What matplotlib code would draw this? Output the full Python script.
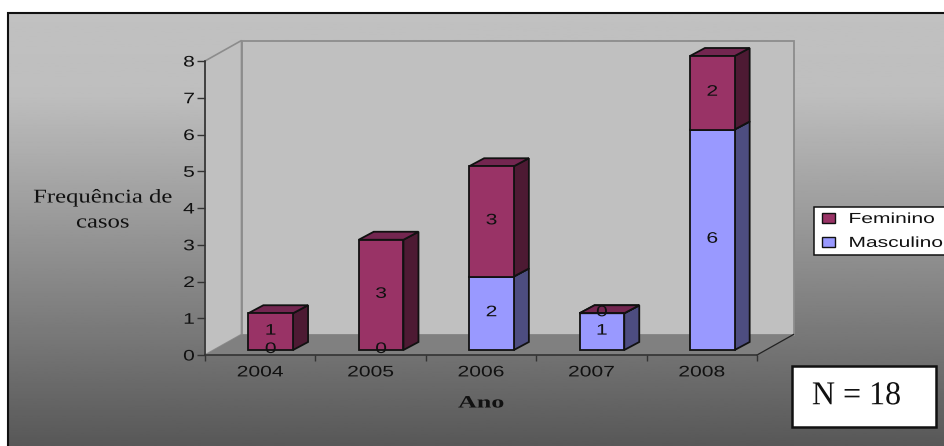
import numpy as np
import matplotlib
matplotlib.use("Agg")
import matplotlib.pyplot as plt
import matplotlib.patheffects as pe
from matplotlib.patches import Patch, Rectangle
from matplotlib.transforms import Affine2D

# Casos por ano e sexo
anos = ["2004", "2005", "2006", "2007", "2008"]
masculino = [0, 0, 2, 1, 6]
feminino = [1, 3, 3, 0, 2]
y_ticks = [0, 1, 2, 3, 4, 5, 6, 7, 8]

W, H = 944, 446

# Cores de frente, lateral e topo de cada serie
cor_fem = ("#993366", "#4d1a33", "#732650")
cor_masc = ("#9999ff", "#4d4d80", "#7373bf")


class Esticar(pe.AbstractPathEffect):
    """Alarga o texto na horizontal, mantendo um ponto de ancora fixo."""

    def __init__(self, sx, ancora="center"):
        super().__init__()
        self.sx = sx
        self.ancora = ancora

    def draw_path(self, renderer, gc, tpath, affine, rgbFace):
        ext = tpath.get_extents()
        cx = {"left": ext.x0, "center": (ext.x0 + ext.x1) / 2, "right": ext.x1}[self.ancora]
        t = Affine2D().translate(-cx, 0).scale(self.sx, 1).translate(cx, 0) + affine
        renderer.draw_path(gc, tpath, t, rgbFace)


fig = plt.figure(figsize=(W / 100, H / 100), dpi=100, facecolor="white")

# Fundo em degrade da area do grafico
bg = fig.add_axes([0, 0, 1, 1], zorder=0)
bg.axis("off")
grad = np.interp(np.linspace(13, 446, 256), [13, 95, 446], [0.755, 0.745, 0.345]).reshape(-1, 1)
bg.imshow(grad, extent=[8, W, 446, 13], cmap="gray", vmin=0, vmax=1, aspect="auto")
bg.set_xlim(0, W)
bg.set_ylim(H, 0)
bg.plot([8, 8, W], [446, 12.5, 12.5], color="#111111", lw=1.5, solid_joinstyle="miter")

# Eixo principal: x=0..5, y=0..8
ax = fig.add_axes([205 / W, 1 - 355 / H, (757 - 205) / W, (355 - 61) / H], zorder=1)
ax.patch.set_alpha(0)
ax.set_xlim(0, 5)
ax.set_ylim(0, 8)


def desloca(dx, dy):
    return ax.transData + Affine2D().translate(dx, dy)


# Paredes e piso em perspectiva
prof_x, prof_y = 36.5, 20.5
fundo = desloca(prof_x, prof_y)
ax.fill([0, 0, 5, 5], [0, 8, 8, 0], transform=fundo,
        fc="#c0c0c0", ec="#8c8c8c", lw=1.3, clip_on=False, zorder=1)
pts = np.vstack([ax.transData.transform([(0, 0), (0, 8)]),
                 fundo.transform([(0, 8), (0, 0)])])
ax.fill(pts[:, 0], pts[:, 1], transform=None, fc="#c0c0c0", ec="#8c8c8c", lw=1.2,
        clip_on=False, zorder=1)
pts = np.vstack([ax.transData.transform([(0, 0), (5, 0)]),
                 fundo.transform([(5, 0), (0, 0)])])
ax.fill(pts[:, 0], pts[:, 1], transform=None, fc="#808080", ec="none",
        clip_on=False, zorder=2)
ax.plot(pts[1:3, 0], pts[1:3, 1], transform=None, color="#222222", lw=0.9,
        clip_on=False, zorder=2)

# Barras empilhadas: frente, lateral e topo
x = np.arange(len(anos)) + 0.5
larg = 0.405
base_t = desloca(10.5, 5)
dx, dy = 15, 8


def segmento(xc, base, altura, cores, z):
    t = base_t
    ax.bar(xc, altura, larg, bottom=base, color=cores[0], edgecolor="#111111", lw=1.3,
           transform=t, clip_on=False, zorder=z + 1)
    topo = base + altura
    p0 = t.transform([(xc + larg / 2, base), (xc + larg / 2, topo)])
    lado = np.vstack([p0, p0[::-1] + (dx, dy)])
    ax.fill(lado[:, 0], lado[:, 1], transform=None, fc=cores[1], ec="#111111", lw=1.3,
            clip_on=False, zorder=z)
    p1 = t.transform([(xc - larg / 2, topo), (xc + larg / 2, topo)])
    tampa = np.vstack([p1, p1[::-1] + (dx, dy)])
    ax.fill(tampa[:, 0], tampa[:, 1], transform=None, fc=cores[2], ec="#111111", lw=1.3,
            clip_on=False, zorder=z)


fonte_num = dict(family="Liberation Sans", fontsize=11, color="#111111",
                 path_effects=[Esticar(1.38)])
rotulo_t = desloca(10.5, 6)
for xc, m, f in zip(x, masculino, feminino):
    if m > 0:
        segmento(xc, 0, m, cor_masc, 3)
    segmento(xc, m, f, cor_fem, 5)
    ax.text(xc, m / 2, str(m), transform=rotulo_t, ha="center", va="center", zorder=8,
            clip_on=False, **fonte_num)
    ax.text(xc, m + f / 2, str(f), transform=rotulo_t, ha="center", va="center", zorder=8,
            clip_on=False, **fonte_num)

# Eixos
for lado_ax in ("top", "right"):
    ax.spines[lado_ax].set_visible(False)
for lado_ax in ("left", "bottom"):
    ax.spines[lado_ax].set_color("#333333")
    ax.spines[lado_ax].set_linewidth(1.2)
    ax.spines[lado_ax].set_zorder(3)
ax.set_yticks(y_ticks)
ax.set_xticks(np.arange(len(anos) + 1))
ax.set_xticklabels([])
ax.set_xticks(x, minor=True)
ax.set_xticklabels(anos, minor=True, family="Liberation Sans", fontsize=11, color="#111111")
ax.tick_params(axis="x", which="major", length=4, width=1, color="#333333")
ax.tick_params(axis="x", which="minor", length=0, pad=7.5)
ax.tick_params(axis="y", length=5.5, width=1, color="#333333", pad=2, labelsize=11,
               labelcolor="#111111")
for rot in ax.get_xticklabels(minor=True):
    rot.set_path_effects([Esticar(1.38)])
for rot in ax.get_yticklabels():
    rot.set_family("Liberation Sans")
    rot.set_path_effects([Esticar(1.38, "right")])

# Titulos dos eixos
serif = dict(family="Liberation Serif", ha="center", va="center", color="#111111")
fig.text(103 / W, 1 - 198 / H, "Frequência de", fontsize=14,
         path_effects=[Esticar(1.27)], **serif)
fig.text(103 / W, 1 - 223 / H, "casos", fontsize=14,
         path_effects=[Esticar(1.27)], **serif)
fig.text(481 / W, 1 - 403.5 / H, "Ano", fontsize=12.5, fontweight="bold",
         path_effects=[Esticar(1.5)], **serif)

# Legenda: a caixa branca vai ate a borda direita
fig.add_artist(Rectangle((814 / W, 1 - 255 / H), 140 / W, 48 / H, transform=fig.transFigure,
                         fc="white", ec="#111111", lw=1.1, zorder=4))
handles = [Patch(fc=cor_fem[0], ec="#111111", lw=1, label="Feminino"),
           Patch(fc=cor_masc[0], ec="#111111", lw=1, label="Masculino")]
leg = fig.legend(handles=handles, loc="upper left", bbox_to_anchor=(822 / W, 1 - 212 / H),
                 borderaxespad=0, frameon=False, handlelength=0.9, handleheight=0.7,
                 handletextpad=0.95, labelspacing=0.68, borderpad=0,
                 prop=dict(family="Liberation Sans", size=10.5))
leg.set_zorder(5)
for rot in leg.get_texts():
    rot.set_color("#111111")
    rot.set_path_effects([Esticar(1.44, "left")])

# Caixa com o total de casos
fig.add_artist(Rectangle((792 / W, 1 - 427 / H), 144 / W, 61 / H, transform=fig.transFigure,
                         fc="white", ec="#111111", lw=1.8, zorder=4))
fig.text(856.5 / W, 1 - 396 / H, "N = 18", family="Liberation Serif", fontsize=24,
         ha="center", va="center", color="#111111", path_effects=[Esticar(0.96)], zorder=5)

fig.savefig("out.png", dpi=100)
